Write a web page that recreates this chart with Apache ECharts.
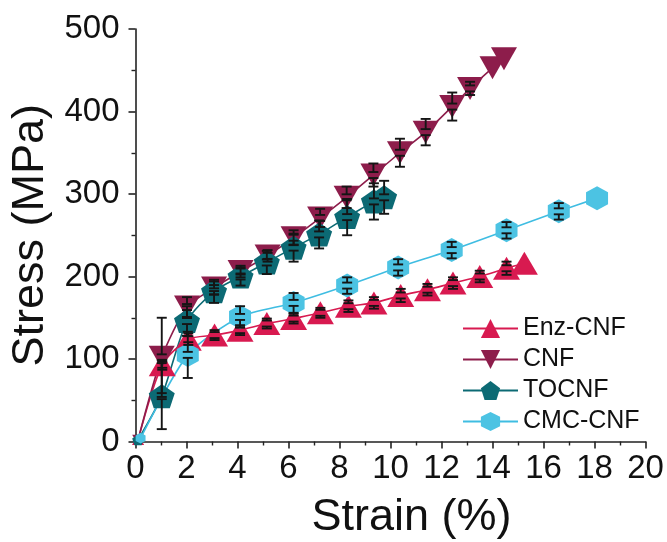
<!DOCTYPE html>
<html>
<head>
<meta charset="utf-8">
<script src="https://cdn.jsdelivr.net/npm/echarts@6/dist/echarts.min.js"></script>
<style>
  html, body { margin: 0; padding: 0; background: #fff; }
  #chart { width: 667px; height: 542px; }
</style>
</head>
<body>
<div id="chart"></div>
<script>
// Tensile curves: strain (%) vs stress (MPa), mean ± SD at each point
const seriesNames = ['Enz-CNF', 'CNF', 'TOCNF', 'CMC-CNF'];

const enzStrain = [0.1, 1.05, 2.07, 3.1, 4.1, 5.15, 6.2, 7.25, 8.35, 9.35, 10.4, 11.45, 12.45, 13.5, 14.55, 15.25];
const enzStress = [2, 93, 124, 129, 135, 143, 149, 156, 164, 168, 177, 184, 192, 200, 210, 216];
const enzErr    = [0, 6, 7, 6, 6, 6, 6, 6, 7, 7, 8, 7, 7, 7, 8, 0];

const cnfStrain = [0.1, 1.03, 2.02, 3.08, 4.12, 5.18, 6.2, 7.24, 8.28, 9.33, 10.37, 11.38, 12.42, 13.12, 14.0, 14.45];
const cnfStress = [2, 102, 163, 186, 206, 225, 247, 271, 296, 323, 350, 375, 406, 428, 453, 464];
const cnfErr    = [0, 48, 12, 8, 7, 7, 9, 11, 13, 14, 17, 16, 17, 8, 0, 0];

const tocStrain = [0.1, 1.03, 2.02, 3.08, 4.12, 5.15, 6.2, 7.2, 8.3, 9.35, 9.75];
const tocStress = [2, 55, 146, 182, 200, 217, 235, 251, 272, 291, 296];
const tocErr    = [0, 40, 18, 14, 11, 14, 17, 17, 22, 22, 20];

const cmcStrain = [0.2, 2.05, 4.1, 6.2, 8.3, 10.3, 12.4, 14.55, 16.6, 18.1];
const cmcStress = [4, 105, 151, 168, 189, 211, 232, 256, 279, 295];
const cmcErr    = [0, 28, 13, 12, 10, 10, 10, 10, 10, 0];

const xTicks = { min: 0, max: 20, step: 2 };
const yTicks = { min: 0, max: 500, step: 100 };

const FONT = "'Liberation Sans', Arial, sans-serif";
const colors = {
  enz: '#d81a50',
  cnf: '#8d1d4b',
  toc: '#0c6a74',
  cmc: '#4cc3e3'
};

// regular pentagon and pointy-top hexagon outlines
const pentagon = 'path://M50,0 L97.6,34.5 L79.4,90.5 L20.6,90.5 L2.4,34.5 Z';
const hexagon = 'path://M50,0 L93.3,25 L93.3,75 L50,100 L6.7,75 L6.7,25 Z';

function pairs(xs, ys) {
  return xs.map((x, i) => [x, ys[i]]);
}

function lineSeries(name, xs, ys, color, symbol, size, rotate, lineColor) {
  return {
    name: name,
    type: 'line',
    data: pairs(xs, ys),
    smooth: 0.25,
    symbol: symbol,
    symbolRotate: rotate,
    symbolSize: function (val, params) {
      return params.dataIndex === 0 ? [size[0] * 0.45, size[1] * 0.45] : size;
    },
    showAllSymbol: true,
    clip: false,
    lineStyle: { color: lineColor || color, width: 1.6 },
    itemStyle: { color: color, borderWidth: 0 },
    emphasis: { disabled: true },
    animation: false
  };
}

// black error bars with end caps and split centre marks
function errorSeries(xs, ys, es) {
  const data = xs.map((x, i) => [x, ys[i], es[i]]).filter(d => d[2] > 0);
  return {
    type: 'custom',
    data: data,
    z: 10,
    silent: true,
    animation: false,
    clip: false,
    renderItem: function (params, api) {
      const x = api.value(0), y = api.value(1), e = api.value(2);
      const c = api.coord([x, y]);
      const top = api.coord([x, y + e]);
      const bot = api.coord([x, y - e]);
      const cap = 5, gap = 3;
      const st = { stroke: '#151515', lineWidth: 1.9 };
      const seg = (x1, y1, x2, y2) => ({ type: 'line', shape: { x1, y1, x2, y2 }, style: st });
      const children = [
        seg(top[0] - cap, top[1], top[0] + cap, top[1]),
        seg(bot[0] - cap, bot[1], bot[0] + cap, bot[1]),
        seg(c[0] - cap, c[1] - gap, c[0] + cap, c[1] - gap),
        seg(c[0] - cap, c[1] + gap, c[0] + cap, c[1] + gap)
      ];
      if (top[1] < c[1] - gap) children.push(seg(c[0], top[1], c[0], c[1] - gap));
      if (bot[1] > c[1] + gap) children.push(seg(c[0], c[1] + gap, c[0], bot[1]));
      return { type: 'group', children: children };
    }
  };
}

const chart = echarts.init(document.getElementById('chart'), null, { renderer: 'canvas' });

const axisLineStyle = { color: '#222', width: 1.6 };

chart.setOption({
  backgroundColor: '#ffffff',
  animation: false,
  textStyle: { fontFamily: FONT },
  grid: {
    left: 135.5, right: 21.5, top: 29, bottom: 100.5,
    containLabel: false, outerBoundsMode: 'none'
  },
  legend: {
    data: seriesNames,
    orient: 'vertical',
    left: 457,
    top: 311,
    itemWidth: 55,
    itemHeight: 24,
    itemGap: 6,
    padding: 5,
    selectedMode: false,
    textStyle: { fontSize: 25, lineHeight: 24, color: '#111', fontFamily: FONT }
  },
  xAxis: {
    type: 'value',
    min: xTicks.min, max: xTicks.max, interval: xTicks.step,
    name: 'Strain (%)',
    nameLocation: 'middle',
    nameGap: 54,
    nameTextStyle: { fontSize: 45, color: '#111', fontFamily: FONT, padding: [0, 0, 0, 42] },
    axisLine: { show: true, onZero: false, lineStyle: axisLineStyle },
    axisTick: { show: true, inside: false, length: 7, lineStyle: axisLineStyle },
    minorTick: { show: true, splitNumber: 2, length: 4, lineStyle: { color: '#222', width: 1.4 } },
    splitLine: { show: false },
    axisLabel: { fontSize: 33, color: '#111', margin: 11, fontFamily: FONT }
  },
  yAxis: {
    type: 'value',
    min: yTicks.min, max: yTicks.max, interval: yTicks.step,
    name: 'Stress (MPa)',
    nameLocation: 'middle',
    nameGap: 80,
    nameTextStyle: { fontSize: 45, color: '#111', fontFamily: FONT },
    axisLine: { show: true, onZero: false, lineStyle: axisLineStyle },
    axisTick: { show: true, inside: false, length: 7, lineStyle: axisLineStyle },
    minorTick: { show: true, splitNumber: 2, length: 4, lineStyle: { color: '#222', width: 1.4 } },
    splitLine: { show: false },
    axisLabel: { fontSize: 33, color: '#111', margin: 16, fontFamily: FONT }
  },
  series: [
    lineSeries('Enz-CNF', enzStrain, enzStress, colors.enz, 'triangle', [27, 23], 0),
    lineSeries('CNF', cnfStrain, cnfStress, colors.cnf, 'triangle', [26, 23], 180),
    lineSeries('TOCNF', tocStrain, tocStress, colors.toc, pentagon, [26, 24], 0),
    lineSeries('CMC-CNF', cmcStrain, cmcStress, colors.cmc, hexagon, [22, 24], 0, '#3fbde2'),
    errorSeries(enzStrain, enzStress, enzErr),
    errorSeries(cnfStrain, cnfStress, cnfErr),
    errorSeries(tocStrain, tocStress, tocErr),
    errorSeries(cmcStrain, cmcStress, cmcErr)
  ]
});
</script>
</body>
</html>
